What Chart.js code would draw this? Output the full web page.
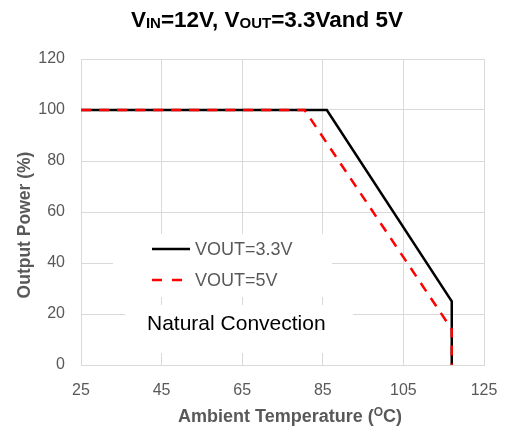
<!DOCTYPE html>
<html>
<head>
<meta charset="utf-8">
<script src="https://cdn.jsdelivr.net/npm/chart.js@4"></script>
<style>
  html, body { margin: 0; padding: 0; background: #fff; }
  #wrap { width: 507px; height: 428px; position: relative; }
</style>
</head>
<body>
<div id="wrap"><canvas id="chart"></canvas></div>
<script>
// ── Data ────────────────────────────────────────────────────────
const tempTicks = [25, 45, 65, 85, 105, 125];
const powerTicks = [0, 20, 40, 60, 80, 100, 120];

const temp33 = [25, 86, 117, 117];
const power33 = [100, 100, 25, 0];

const temp5 = [25, 80.5, 117, 117];
const power5 = [100, 100, 14, 0];

const seriesNames = ["VOUT=3.3V", "VOUT=5V"];

const FONT = "'Liberation Sans', Arial, sans-serif";
const GRAY = "#595959";
const GRID = "#d9d9d9";

const toPoints = (xs, ys) => xs.map((x, i) => ({ x, y: ys[i] }));

// ── Text with sub/superscripts ──────────────────────────────────
function drawRich(ctx, parts, cx, baseline, color) {
  let total = 0;
  parts.forEach(p => { ctx.font = p.font; total += ctx.measureText(p.text).width; });
  let x = cx - total / 2;
  ctx.fillStyle = color;
  ctx.textAlign = "left";
  ctx.textBaseline = "alphabetic";
  parts.forEach(p => {
    ctx.font = p.font;
    ctx.fillText(p.text, x, baseline + (p.dy || 0));
    x += ctx.measureText(p.text).width;
  });
}

const decorations = {
  id: "decorations",
  beforeDatasetsDraw(chart) {
    const ctx = chart.ctx;
    ctx.save();
    ctx.fillStyle = "#fff";
    ctx.fillRect(113, 234, 219, 63);   // legend box
    ctx.fillRect(125, 305, 228, 48);   // note box
    ctx.restore();
  },
  afterDraw(chart) {
    const ctx = chart.ctx;
    ctx.save();

    // title
    const big = `bold 22.5px ${FONT}`, small = `bold 15px ${FONT}`;
    drawRich(ctx, [
      { text: "V", font: big },
      { text: "IN", font: small, dy: 1 },
      { text: "=12V, V", font: big },
      { text: "OUT", font: small, dy: 1 },
      { text: "=3.3Vand 5V", font: big },
    ], 267, 27, "#000");

    // x axis title
    const axb = `bold 18px ${FONT}`, axs = `bold 12px ${FONT}`;
    drawRich(ctx, [
      { text: "Ambient Temperature (", font: axb },
      { text: "O", font: axs, dy: -6 },
      { text: "C)", font: axb },
    ], 290, 422, GRAY);

    // y axis title
    ctx.translate(30, 225);
    ctx.rotate(-Math.PI / 2);
    drawRich(ctx, [{ text: "Output Power (%)", font: `bold 17.5px ${FONT}` }], 0, 0, GRAY);
    ctx.setTransform(1, 0, 0, 1, 0, 0);

    // legend
    ctx.lineWidth = 2.5;
    ctx.strokeStyle = "#000";
    ctx.beginPath(); ctx.moveTo(152, 249); ctx.lineTo(190, 249); ctx.stroke();
    ctx.strokeStyle = "#ff0000";
    ctx.setLineDash([10, 10]);
    ctx.beginPath(); ctx.moveTo(152, 280); ctx.lineTo(190, 280); ctx.stroke();
    ctx.setLineDash([]);
    ctx.font = `18px ${FONT}`;
    ctx.fillStyle = GRAY;
    ctx.textBaseline = "middle";
    ctx.fillText(seriesNames[0], 195, 250);
    ctx.fillText(seriesNames[1], 195, 281);

    // note
    ctx.font = `21px ${FONT}`;
    ctx.fillStyle = "#000";
    ctx.textBaseline = "alphabetic";
    ctx.fillText("Natural Convection", 147, 330);

    ctx.restore();
  },
};

new Chart(document.getElementById("chart"), {
  type: "line",
  data: {
    datasets: [
      {
        label: seriesNames[0],
        data: toPoints(temp33, power33),
        borderColor: "#000",
        borderWidth: 2.5,
        pointRadius: 0,
        fill: false,
        tension: 0,
        order: 2,
      },
      {
        label: seriesNames[1],
        data: toPoints(temp5, power5),
        borderColor: "#ff0000",
        borderWidth: 2.5,
        borderDash: [10, 8],
        pointRadius: 0,
        fill: false,
        tension: 0,
        order: 1,
      },
    ],
  },
  options: {
    responsive: true,
    maintainAspectRatio: false,
    animation: false,
    layout: { padding: { top: 59, right: 23, left: 0, bottom: 0 } },
    plugins: {
      legend: { display: false },
      tooltip: { enabled: false },
      title: { display: false },
    },
    scales: {
      x: {
        type: "linear",
        min: 25,
        max: 125,
        afterBuildTicks: (axis) => { axis.ticks = tempTicks.map(v => ({ value: v })); },
        afterFit: (axis) => {
          axis.height = 63;
          axis.paddingLeft = 0;
          axis.paddingRight = 0;
        },
        grid: { color: GRID, lineWidth: 1, drawTicks: false },
        border: { color: GRID, width: 1 },
        ticks: { font: { family: FONT, size: 16 }, color: GRAY, padding: 16, maxRotation: 0 },
      },
      y: {
        min: 0,
        max: 120,
        afterBuildTicks: (axis) => { axis.ticks = powerTicks.map(v => ({ value: v })); },
        afterFit: (axis) => {
          axis.width = 81;
          axis.paddingTop = 0;
          axis.paddingBottom = 0;
        },
        grid: { color: GRID, lineWidth: 1, drawTicks: false },
        border: { color: GRID, width: 1 },
        ticks: { font: { family: FONT, size: 16 }, color: GRAY, padding: 16 },
      },
    },
  },
  plugins: [decorations],
});
</script>
</body>
</html>
